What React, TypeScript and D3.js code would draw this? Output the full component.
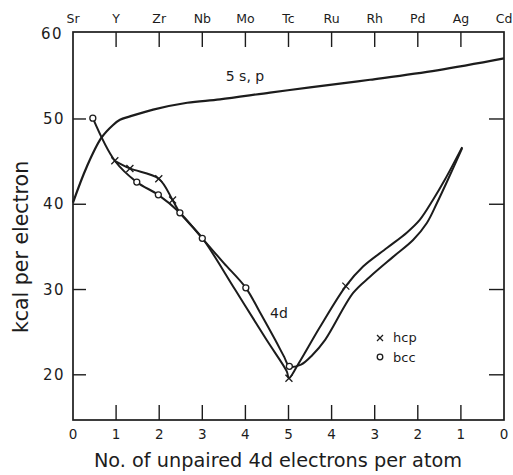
import React from "react";
import * as d3 from "d3";

// element names along the top, unpaired 4d counts along the bottom
const elements = ["Sr", "Y", "Zr", "Nb", "Mo", "Tc", "Ru", "Rh", "Pd", "Ag", "Cd"];
const unpaired = ["0", "1", "2", "3", "4", "5", "4", "3", "2", "1", "0"];
const yTicks = [20, 30, 40, 50, 60];

// 5s,p curve
const spX = [0, 0.32, 0.66, 0.93, 1.09, 1.32, 1.86, 2.65, 3.41, 4.57, 5.5, 6.89, 8.45, 10];
const spY = [40.2, 44.4, 47.8, 49.3, 49.9, 50.3, 51.1, 51.9, 52.3, 53.1, 53.7, 54.6, 55.7, 57.1];

// 4d curve, hcp
const hcpX = [0.97, 1.32, 1.99, 2.31, 2.48, 2.99, 3.76, 4.49, 4.96, 5.01, 5.22, 5.73, 6.33, 6.73, 7.29, 7.75, 8.05, 8.35, 8.63, 9.03];
const hcpY = [45.1, 44.2, 43.0, 40.5, 39.0, 36.1, 30.0, 24.1, 20.4, 19.6, 21.2, 25.6, 30.4, 32.7, 34.9, 36.7, 38.2, 40.5, 42.9, 46.7];
const hcpPtX = [0.97, 1.32, 1.99, 2.31, 5.01, 6.33];
const hcpPtY = [45.1, 44.2, 43.0, 40.5, 19.6, 30.4];

// 4d curve, bcc
const bccX = [0.46, 0.97, 1.48, 1.98, 2.48, 3.0, 3.5, 4.01, 4.34, 4.69, 4.9, 5.02, 5.29, 5.55, 5.85, 6.5, 6.89, 7.42, 7.89, 8.21, 8.45, 8.7, 9.03];
const bccY = [50.1, 45.1, 42.6, 41.1, 39.0, 36.0, 33.1, 30.2, 27.3, 24.1, 22.1, 21.0, 21.2, 22.3, 24.1, 29.6, 31.5, 33.8, 35.8, 37.8, 40.2, 42.9, 46.6];
const bccPtX = [0.46, 1.48, 1.98, 2.48, 3.0, 4.01, 5.02];
const bccPtY = [50.1, 42.6, 41.1, 39.0, 36.0, 30.2, 21.0];

const W = 513;
const H = 475;
const left = 73, right = 504, top = 32, bottom = 420;
const ink = "#1c1c1c";
const font = "DejaVu Sans, sans-serif";

export default function App() {
  const x = d3.scaleLinear().domain([0, 10]).range([left, right]);
  const y = d3.scaleLinear().domain([14.7, 60.2]).range([bottom, top]);

  const path = (xs: number[], ys: number[]) =>
    d3
      .line<number>()
      .x((d) => x(xs[d]))
      .y((d) => y(ys[d]))
      .curve(d3.curveCatmullRom.alpha(0.5))(xs.map((_, i) => i)) || "";

  const inner = d3.range(1, 10);

  return (
    <svg
      width={W}
      height={H}
      style={{ position: "absolute", left: 0, top: 0, background: "#fff" }}
      fontFamily={font}
    >
      <rect x={left} y={top} width={right - left} height={bottom - top} fill="none" stroke={ink} strokeWidth={1.7} />

      {/* ticks top and bottom */}
      {inner.map((i) => (
        <g key={"t" + i} stroke={ink} strokeWidth={1.4}>
          <line x1={x(i)} x2={x(i)} y1={top} y2={top + 15} />
          <line x1={x(i)} x2={x(i)} y1={bottom} y2={bottom - 15} />
        </g>
      ))}
      {yTicks.filter((t) => t < 60).map((t) => (
        <g key={"y" + t} stroke={ink} strokeWidth={1.4}>
          <line x1={left} x2={left + 13} y1={y(t)} y2={y(t)} />
          <line x1={right} x2={right - 15} y1={y(t)} y2={y(t)} />
        </g>
      ))}

      {/* tick labels */}
      {elements.map((e, i) => (
        <text key={e} x={x(i)} y={23} textAnchor="middle" fontSize={12.5} fill={ink}>
          {e}
        </text>
      ))}
      {unpaired.map((u, i) => (
        <text key={"u" + i} x={x(i)} y={439} textAnchor="middle" fontSize={13.5} fill={ink}>
          {u}
        </text>
      ))}
      {yTicks.map((t) => (
        <text key={"yl" + t} x={t === 60 ? 63 : 65} y={y(t) + 5} textAnchor="end" fontSize={15} letterSpacing={1.5} fill={ink}>
          {t}
        </text>
      ))}

      {/* axis titles */}
      <text x={278} y={467} textAnchor="middle" fontSize={19.3} fill={ink}>
        No. of unpaired 4d electrons per atom
      </text>
      <text transform="translate(28,247) rotate(-90)" textAnchor="middle" fontSize={20.5} fill={ink}>
        kcal per electron
      </text>

      {/* curves */}
      <path d={path(spX, spY)} fill="none" stroke={ink} strokeWidth={2.2} />
      <path d={path(hcpX, hcpY)} fill="none" stroke={ink} strokeWidth={2} />
      <path d={path(bccX, bccY)} fill="none" stroke={ink} strokeWidth={2} />

      {/* markers */}
      {hcpPtX.map((v, i) => {
        const cx = x(v), cy = y(hcpPtY[i]), s = 3.5;
        return (
          <g key={"h" + i} stroke={ink} strokeWidth={1.3}>
            <line x1={cx - s} y1={cy - s} x2={cx + s} y2={cy + s} />
            <line x1={cx - s} y1={cy + s} x2={cx + s} y2={cy - s} />
          </g>
        );
      })}
      {bccPtX.map((v, i) => (
        <circle key={"b" + i} cx={x(v)} cy={y(bccPtY[i])} r={3} fill="#fff" stroke={ink} strokeWidth={1.3} />
      ))}

      {/* curve labels */}
      <text x={245} y={81} textAnchor="middle" fontSize={14} fill={ink}>
        5 s, p
      </text>
      <text x={279} y={318} textAnchor="middle" fontSize={14} fill={ink}>
        4d
      </text>

      {/* legend */}
      <g stroke={ink} strokeWidth={1.3}>
        <line x1={377} y1={335} x2={383} y2={341} />
        <line x1={377} y1={341} x2={383} y2={335} />
      </g>
      <text x={393} y={342} fontSize={13} fill={ink}>hcp</text>
      <circle cx={380} cy={357} r={2.8} fill="#fff" stroke={ink} strokeWidth={1.3} />
      <text x={393} y={362} fontSize={13} fill={ink}>bcc</text>
    </svg>
  );
}
